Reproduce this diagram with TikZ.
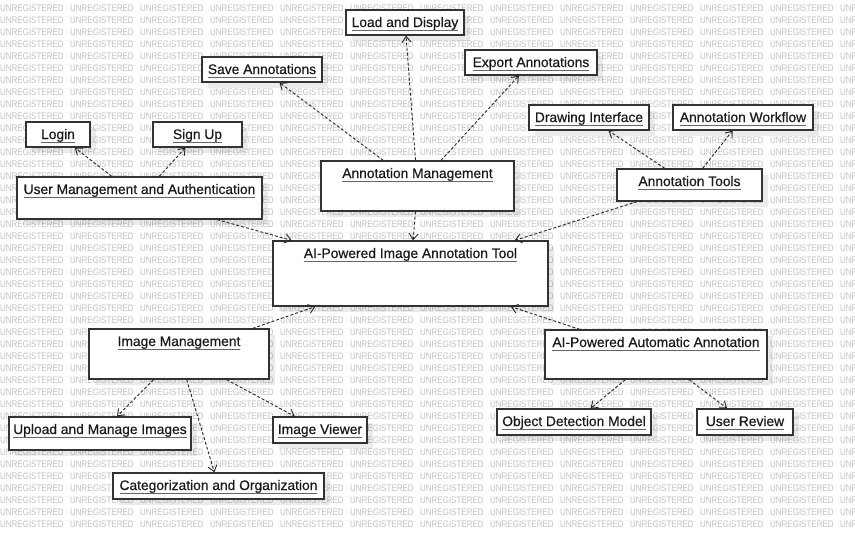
\documentclass[tikz,border=0pt]{standalone}
\usepackage{fontspec}
\setmainfont{Liberation Sans}
\newfontfamily\wmfont[FakeStretch=0.84]{Liberation Sans}
\newfontfamily\boxfont[FakeBold=0.4]{Liberation Sans}
\usetikzlibrary{arrows.meta, shadows}
\newcommand{\classfont}{\boxfont\fontsize{13.8}{16}\selectfont}
\newcommand{\ulname}[1]{\setbox0=\hbox{#1}\rlap{\color{black!60}\rule[-4pt]{\wd0}{1.3pt}}\box0}
\tikzstyle{classbox} = [rectangle,
inner xsep=0pt, inner ysep=6pt,
text height=11pt, text depth=2pt,
text=black!90, font=\classfont,
draw=black!80, line width=1.2pt,
fill=white,
drop shadow={shadow xshift=6pt, shadow yshift=-6pt, fill=black, opacity=0.08}]
\tikzstyle{watermark} = [anchor=west, inner sep=0pt, text=black!24,
font=\wmfont\fontsize{9.5}{10}\selectfont]
\tikzstyle{dep} = [line width=0.9pt, draw=black!85, dash pattern=on 3pt off 2pt,
-{Straight Barb[length=6pt,width=9pt]}]

\begin{document}
\begin{tikzpicture}[x=1pt, y=-1pt]
    \useasboundingbox (0,0) rectangle (855,539);
    \fill[white] (0,0) rectangle (855,539);
    % background watermark
    \foreach \r in {0,...,43}
        \foreach \c in {0,...,12}
            \node[watermark] at (\c*70, 8+\r*12) {UNREGISTERED};

    \node (load) [classbox, minimum width=118pt] at (405,22.5) {\ulname{Load and Display}};
    \node (save) [classbox, minimum width=120pt] at (262,69.5) {\ulname{Save Annotations}};
    \node (export) [classbox, minimum width=132pt] at (531,62.5) {\ulname{Export Annotations}};
    \node (login) [classbox, minimum width=64pt] at (58,134.5) {\ulname{Login}};
    \node (signup) [classbox, minimum width=89pt] at (197.5,134.5) {\ulname{Sign Up}};
    \node (drawing) [classbox, minimum width=120pt] at (589,117.5) {\ulname{Drawing Interface}};
    \node (workflow) [classbox, minimum width=140pt] at (743,117.5) {\ulname{Annotation Workflow}};
    \node (usermgmt) [classbox, minimum width=245pt, text depth=19pt] at (139.5,198) {\ulname{User Management and Authentication}};
    \node (annotmgmt) [classbox, minimum width=193pt, text depth=27pt] at (417.5,186) {\ulname{Annotation Management}};
    \node (tools) [classbox, minimum width=145pt, text depth=9pt] at (689.5,185) {\ulname{Annotation Tools}};
    \node (tool) [classbox, minimum width=275pt, text depth=42pt] at (410.5,273.5) {\ulname{AI-Powered Image Annotation Tool}};
    \node (imgmgmt) [classbox, minimum width=180pt, text depth=27pt] at (179,354) {\ulname{Image Management}};
    \node (auto) [classbox, minimum width=222pt, text depth=26pt] at (656,354.5) {\ulname{AI-Powered Automatic Annotation}};
    \node (upload) [classbox, minimum width=182pt, text depth=10pt] at (100,433.5) {\ulname{Upload and Manage Images}};
    \node (viewer) [classbox, minimum width=94pt, text depth=3pt] at (320,430) {\ulname{Image Viewer}};
    \node (categ) [classbox, minimum width=211pt, text depth=3pt] at (218.5,486) {\ulname{Categorization and Organization}};
    \node (objdet) [classbox, minimum width=154pt, text depth=3pt] at (574,422) {\ulname{Object Detection Model}};
    \node (review) [classbox, minimum width=96pt, text depth=3pt] at (745,422) {\ulname{User Review}};

    \draw [dep] (usermgmt) -- (login);
    \draw [dep] (usermgmt) -- (signup);
    \draw [dep] (usermgmt) -- (tool);
    \draw [dep] (annotmgmt) -- (save);
    \draw [dep] (annotmgmt) -- (load);
    \draw [dep] (annotmgmt) -- (export);
    \draw [dep] (annotmgmt) -- (tool);
    \draw [dep] (tools) -- (drawing);
    \draw [dep] (tools) -- (workflow);
    \draw [dep] (tools) -- (tool);
    \draw [dep] (imgmgmt) -- (tool);
    \draw [dep] (imgmgmt) -- (upload);
    \draw [dep] (imgmgmt) -- (viewer);
    \draw [dep] (imgmgmt) -- (categ);
    \draw [dep] (auto) -- (tool);
    \draw [dep] (auto) -- (objdet);
    \draw [dep] (auto) -- (review);
\end{tikzpicture}
\end{document}
